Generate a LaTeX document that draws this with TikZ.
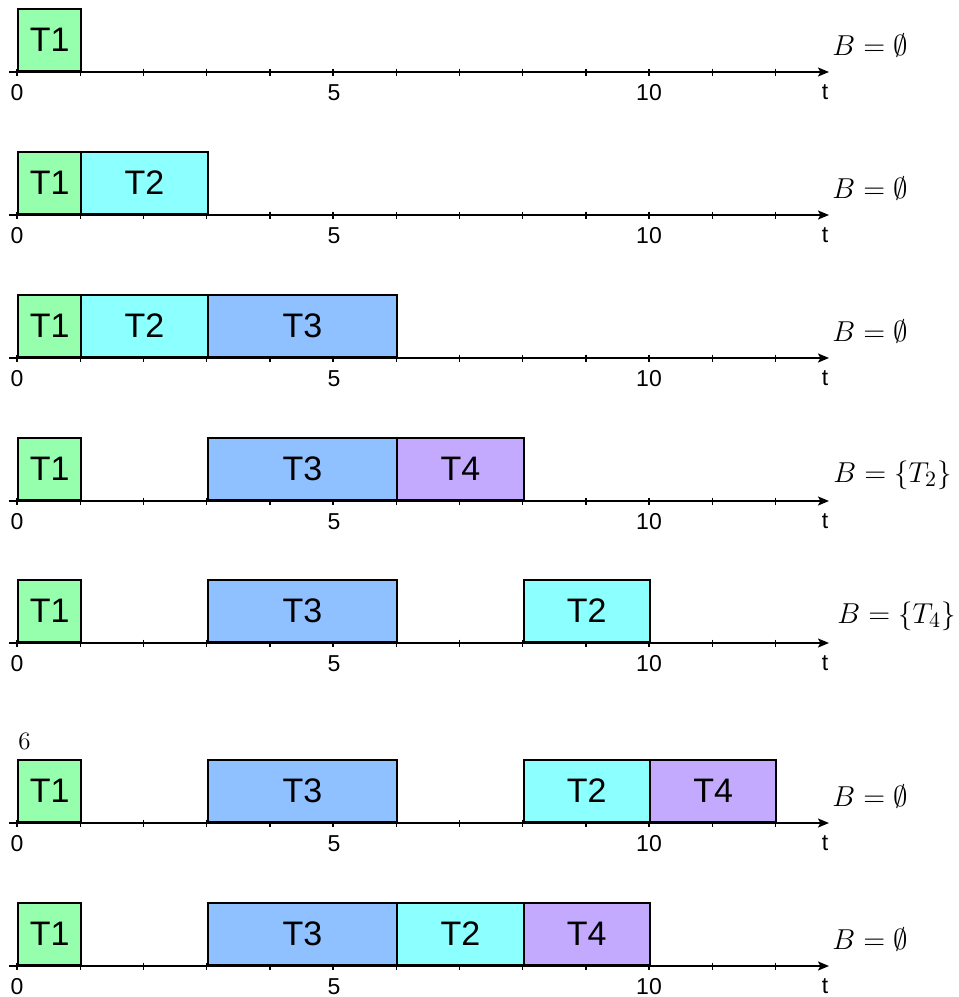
\documentclass[tikz,border=0pt]{standalone}
\usepackage{fontspec}
\setsansfont{Liberation Sans}
\usetikzlibrary{arrows.meta}
\definecolor{cgreen}{RGB}{150,255,174}
\definecolor{ccyan}{RGB}{140,255,255}
\definecolor{cblue}{RGB}{143,192,255}
\definecolor{cpurple}{RGB}{196,170,255}
\tikzset{
  box/.style={draw,line width=1pt,inner sep=0pt,anchor=south west,minimum height=31pt,
    font=\sffamily\fontsize{17}{17}\selectfont},
  axisline/.style={line width=0.9pt,-{Stealth[length=5.5pt,width=4.5pt,inset=1.2pt]}},
  tickmark/.style={line width=0.7pt},
  numlbl/.style={inner sep=0pt,anchor=base,font=\sffamily\fontsize{11.5}{11.5}\selectfont},
  blbl/.style={inner sep=0pt,anchor=base west,font=\fontsize{15}{15}\selectfont},
}
\newcommand\timeline[2]{%
  \coordinate (#1s) at (9,#2);
  \coordinate (#1e) at (829,#2);
  \draw[axisline] (#1s) -- (#1e);
  \foreach \k in {0,...,12} \draw[tickmark] ({17+63.2*\k},{#2-3.5}) -- ++(0,7);
  \node[numlbl] (#1n0) at (17,{#2+28}) {0};
  \node[numlbl] (#1n5) at (334,{#2+28}) {5};
  \node[numlbl] (#1n10) at (649,{#2+28}) {10};
  \node[numlbl] (#1t) at (825,{#2+27.5}) {t};
}
\newcommand\task[6]{%
  \node[box,fill=#5,minimum width={(#3-#2)*31.6pt}] (#1) at ({17+63.2*#2},#4) {#6};
}
\begin{document}
\begin{tikzpicture}[x=0.5pt,y=-0.5pt]
\useasboundingbox (0,0) rectangle (959,997);
% row 1
\timeline{ra}{72}
\task{raT1}{0}{1}{72}{cgreen}{T1}
\node[blbl] (raB) at (832,55) {$B=\emptyset$};
% row 2
\timeline{rb}{215}
\task{rbT1}{0}{1}{215}{cgreen}{T1}
\task{rbT2}{1}{3}{215}{ccyan}{T2}
\node[blbl] (rbB) at (832,198) {$B=\emptyset$};
% row 3
\timeline{rc}{358}
\task{rcT1}{0}{1}{358}{cgreen}{T1}
\task{rcT2}{1}{3}{358}{ccyan}{T2}
\task{rcT3}{3}{6}{358}{cblue}{T3}
\node[blbl] (rcB) at (832,341) {$B=\emptyset$};
% row 4
\timeline{rd}{501}
\task{rdT1}{0}{1}{501}{cgreen}{T1}
\task{rdT3}{3}{6}{501}{cblue}{T3}
\task{rdT4}{6}{8}{501}{cpurple}{T4}
\node[blbl] (rdB) at (833,482) {$B=\{T_2\}$};
% row 5
\timeline{re}{643}
\task{reT1}{0}{1}{643}{cgreen}{T1}
\task{reT3}{3}{6}{643}{cblue}{T3}
\task{reT2}{8}{10}{643}{ccyan}{T2}
\node[blbl] (reB) at (837,623.5) {$B=\{T_4\}$};
% stray label
\node[inner sep=0pt,anchor=base west,font=\fontsize{12.5}{12.5}\selectfont] (six) at (18,749) {6};
% row 6
\timeline{rf}{823}
\task{rfT1}{0}{1}{823}{cgreen}{T1}
\task{rfT3}{3}{6}{823}{cblue}{T3}
\task{rfT2}{8}{10}{823}{ccyan}{T2}
\task{rfT4}{10}{12}{823}{cpurple}{T4}
\node[blbl] (rfB) at (832,806) {$B=\emptyset$};
% row 7
\timeline{rg}{966}
\task{rgT1}{0}{1}{966}{cgreen}{T1}
\task{rgT3}{3}{6}{966}{cblue}{T3}
\task{rgT2}{6}{8}{966}{ccyan}{T2}
\task{rgT4}{8}{10}{966}{cpurple}{T4}
\node[blbl] (rgB) at (832,949) {$B=\emptyset$};
\end{tikzpicture}
\end{document}
